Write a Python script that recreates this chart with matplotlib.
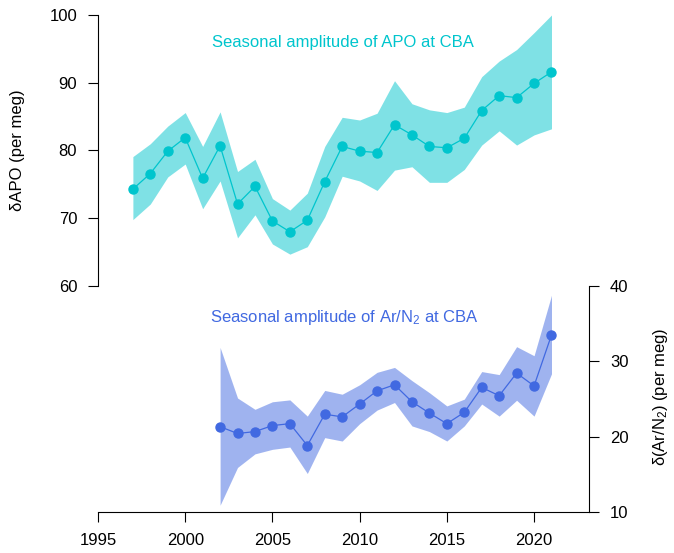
import matplotlib.pyplot as plt

plt.rcParams['font.family'] = ['Liberation Sans', 'DejaVu Sans']
plt.rcParams['mathtext.fontset'] = 'custom'
plt.rcParams['mathtext.rm'] = 'Liberation Sans'
plt.rcParams['mathtext.it'] = 'Liberation Sans:italic'

# APO seasonal amplitude at CBA (per meg)
apo_years = list(range(1997, 2022))
apo_amp = [74.3, 76.6, 79.9, 81.9, 75.9, 80.7, 72.1, 74.7, 69.6, 68.0, 69.7, 75.4, 80.6,
           79.9, 79.7, 83.8, 82.3, 80.6, 80.4, 81.8, 85.9, 88.1, 87.8, 89.9, 91.6]
apo_upper = [79.1, 81.0, 83.6, 85.6, 80.6, 85.7, 76.9, 78.7, 72.9, 71.2, 73.7, 80.6, 84.9,
             84.5, 85.5, 90.3, 86.9, 86.0, 85.6, 86.4, 90.9, 93.2, 94.9, 97.4, 100.0]
apo_lower = [69.8, 72.1, 76.1, 78.0, 71.4, 75.5, 67.1, 70.5, 66.2, 64.7, 65.8, 70.2, 76.2,
             75.5, 74.1, 77.1, 77.6, 75.3, 75.3, 77.2, 80.8, 82.9, 80.8, 82.3, 83.2]

# Ar/N2 seasonal amplitude at CBA (per meg)
arn2_years = list(range(2002, 2022))
arn2_amp = [21.3, 20.4, 20.65, 21.45, 21.7, 18.8, 22.95, 22.6, 24.3, 26.05,
            26.85, 24.6, 23.1, 21.7, 23.2, 26.5, 25.4, 28.4, 26.7, 33.45]
arn2_upper = [31.8, 25.1, 23.6, 24.6, 24.85, 22.7, 26.1, 25.6, 26.85, 28.5,
              29.15, 27.4, 25.8, 24.05, 24.95, 28.6, 28.2, 31.9, 30.7, 38.7]
arn2_lower = [10.9, 15.9, 17.7, 18.3, 18.6, 15.1, 19.85, 19.4, 21.7, 23.5,
              24.5, 21.4, 20.65, 19.4, 21.4, 24.3, 22.7, 24.8, 22.7, 28.3]

apo_col = '#00C5CD'
arn2_col = '#4169E1'

fig = plt.figure(figsize=(6.74, 5.53), dpi=100)
ax1 = fig.add_axes([98 / 674, 41 / 553, 491 / 674, 497 / 553])
ax2 = ax1.twinx()

# APO on the left axis (upper half)
ax1.fill_between(apo_years, apo_lower, apo_upper, color=apo_col, alpha=0.5, lw=0)
ax1.plot(apo_years, apo_amp, '-o', color=apo_col, lw=0.9, markersize=6.5)
ax1.set_ylim(26.64, 100)
ax1.set_xlim(1995, 2023.15)
ax1.set_yticks([60, 70, 80, 90, 100])
ax1.spines['left'].set_bounds(60, 100)
ax1.text(2009.05, 96.0, 'Seasonal amplitude of APO at CBA', color=apo_col,
         fontsize=12, ha='center', va='center')

# Ar/N2 on the right axis (lower half)
ax2.fill_between(arn2_years, arn2_lower, arn2_upper, color=arn2_col, alpha=0.5, lw=0)
ax2.plot(arn2_years, arn2_amp, '-o', color=arn2_col, lw=0.9, markersize=6.5)
ax2.set_ylim(10, 75.83)
ax2.set_yticks([10, 20, 30, 40])
ax2.spines['right'].set_bounds(10, 40)
ax2.text(2009.1, 35.7, 'Seasonal amplitude of Ar/N$_2$ at CBA', color=arn2_col,
         fontsize=12, ha='center', va='center')

# axis titles placed in figure pixels
fig.text(18 / 674, 1 - 150 / 553, 'δAPO (per meg)', rotation=90,
         fontsize=12, ha='center', va='center')
fig.text(661 / 674, 1 - 397 / 553, 'δ(Ar/N$_2$) (per meg)', rotation=90,
         fontsize=12, ha='center', va='center')

for a in (ax1, ax2):
    a.spines['top'].set_visible(False)
    a.patch.set_visible(False)
ax1.spines['right'].set_visible(False)
ax2.spines['left'].set_visible(False)
ax2.spines['bottom'].set_visible(False)

ax1.set_xticks([1995, 2000, 2005, 2010, 2015, 2020])
for a in (ax1, ax2):
    a.tick_params(direction='out', length=7, width=0.8, labelsize=12, pad=8)
    for s in a.spines.values():
        s.set_linewidth(0.8)

plt.savefig('out.png', dpi=100)
